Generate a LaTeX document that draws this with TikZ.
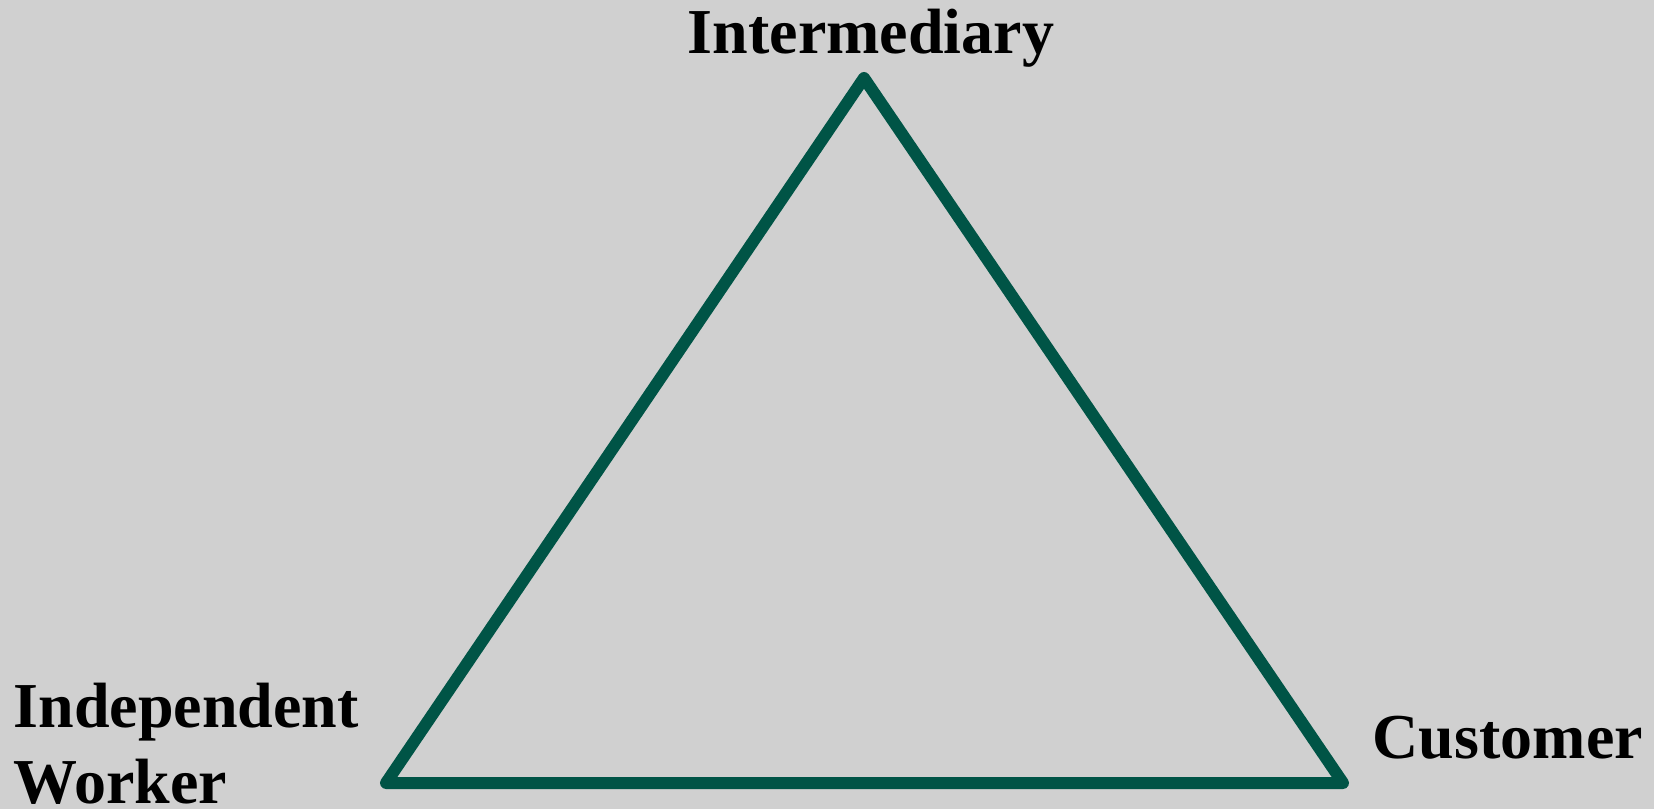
\documentclass[tikz,border=0pt]{standalone}
\usepackage{fontspec}
\setmainfont{Liberation Serif}
\usetikzlibrary{calc}
\definecolor{bggray}{RGB}{208,208,208}
\definecolor{edgegreen}{RGB}{0,84,70}
\tikzset{lbl/.style={inner sep=0,font=\fontsize{18.2}{21.6}\selectfont\bfseries}}

\begin{document}
\begin{tikzpicture}[x=0.01cm,y=-0.01cm]
  \fill[bggray] (0,0) rectangle (1654,809);
  \useasboundingbox (0,0) rectangle (1654,809);
  \coordinate (top) at (864,78);
  \coordinate (left) at (386,783);
  \coordinate (right) at (1343,783);
  \draw[edgegreen,line width=0.12cm,line join=round,line cap=round]
    (top) -- (right) -- (left) -- cycle;
  \node[lbl,anchor=base] (inter) at (871,53) {Intermediary};
  \node[lbl,anchor=base west,align=left] (worker) at (13,803)
  {Independent\\Worker};
  \node[lbl,anchor=base west] (cust) at (1372,758) {Customer};
\end{tikzpicture}
\end{document}
